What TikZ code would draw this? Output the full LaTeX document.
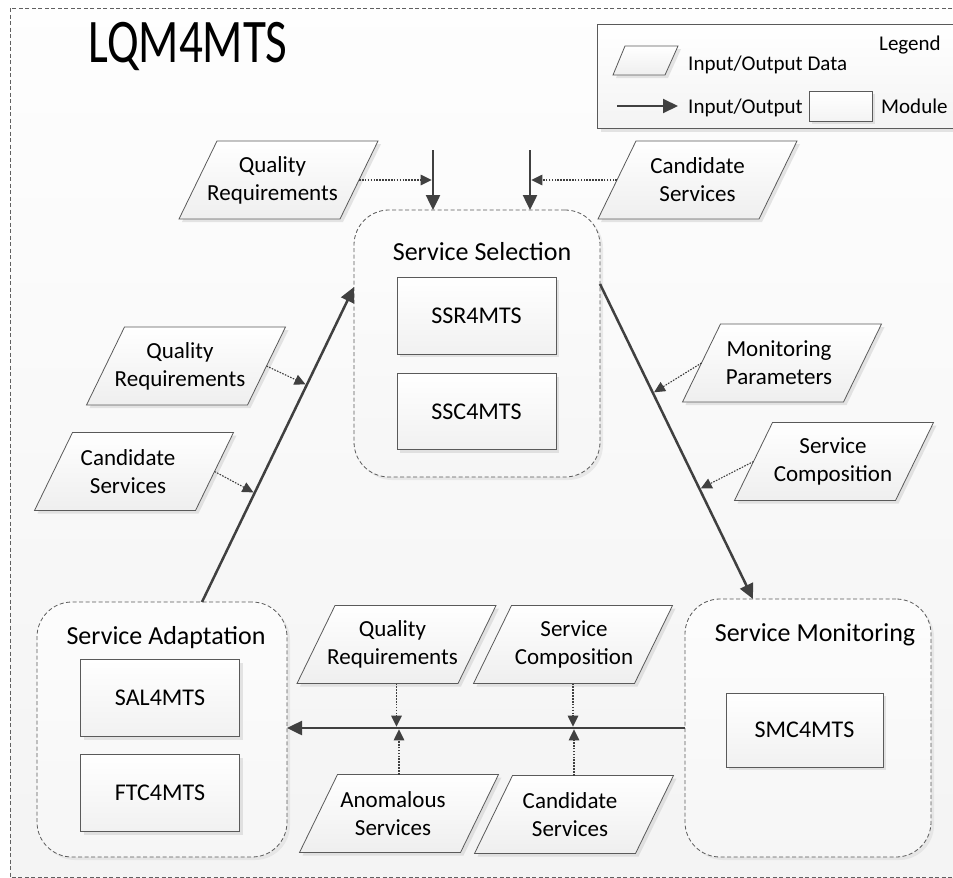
\documentclass[tikz,border=0pt]{standalone}
\usepackage{fontspec}
\setmainfont{Carlito}
\usepackage{graphicx}
\usetikzlibrary{arrows.meta,shadows,calc}
\definecolor{arr}{HTML}{404040}
\definecolor{edgec}{HTML}{5A5A5A}
\tikzset{
  mainarrow/.style={draw=arr, line width=2.5pt, -{Triangle[length=15pt,width=14pt]}},
  dotarrow/.style={draw=arr, line width=1.1pt, dash pattern=on 1.6pt off 1.3pt, -{Triangle[length=11pt,width=10.5pt]}},
  sh/.style={drop shadow={shadow xshift=3pt, shadow yshift=-3pt, fill=gray!45, opacity=0.45}},
  module/.style={draw=edgec, line width=0.8pt, top color=white, bottom color=gray!11, sh,
    minimum width=159pt, minimum height=77pt, inner sep=0pt, outer sep=0pt, font=\fontsize{24}{28}\selectfont},
  container/.style={draw=edgec, line width=0.8pt, dash pattern=on 4pt off 2.5pt, rounded corners=35pt,
    top color=gray!2, bottom color=gray!7, inner sep=0pt, outer sep=0pt,
    drop shadow={shadow xshift=3pt, shadow yshift=-3pt, fill=gray!40, opacity=0.35}},
  ctitle/.style={inner sep=0pt, font=\fontsize{26}{30}\selectfont},
  paratext/.style={align=center, inner sep=0pt, font=\fontsize{23}{28}\selectfont},
  parashape/.style={draw=edgec, line width=0.8pt, top color=white, bottom color=gray!13, sh},
  legtext/.style={inner sep=0pt, anchor=base west, font=\fontsize{21}{25}\selectfont},
}
\newcommand\paral[5]{%
  \begin{scope}[shift={(#2,#3)}]
    \path[parashape] (-61.5,39) -- (99.5,39) -- (61.5,-39) -- (-99.5,-39) -- cycle;
    \coordinate (#1-r) at (80.5,0);
    \coordinate (#1-l) at (-80.5,0);
    \coordinate (#1-t) at (0,39);
    \coordinate (#1-b) at (0,-39);
    \node[paratext] (#1) at (#4,0) {#5};
  \end{scope}}
\begin{document}
\begin{tikzpicture}[x=1pt,y=1pt]
\useasboundingbox (0,0) rectangle (953,-878);
\clip (0,0) rectangle (953,-878);
% background and outer border
\path[top color=gray!1, bottom color=gray!9] (10,-8) rectangle (990,-877);
\draw[gray!75!black, line width=0.8pt, dash pattern=on 4pt off 2.5pt] (10,-8) rectangle (990,-877);
% title
\node[anchor=base west, inner sep=0pt] (title) at (88,-62) {\scalebox{0.76}[1]{\fontsize{62}{62}\selectfont LQM4MTS}};
% legend
\node[draw=edgec, line width=1pt, top color=white, bottom color=gray!9, sh, anchor=north west,
  minimum width=380pt, minimum height=104pt, inner sep=0pt] (legend) at (597,-24) {};
\path[parashape] (625,-46) -- (678,-46) -- (665,-75) -- (613,-75) -- cycle;
\node[legtext] (legT) at (879,-50) {Legend};
\node[legtext] (legD) at (688,-70) {Input/Output Data};
\coordinate (legA1) at (617,-106);
\coordinate (legA2) at (678,-106);
\draw[draw=arr, line width=2pt, -{Triangle[length=15pt,width=14pt]}] (legA1) -- (legA2);
\node[legtext] (legIO) at (688,-113) {Input/Output};
\node[draw=edgec, line width=0.8pt, top color=white, bottom color=gray!9, sh, anchor=north west,
  minimum width=63pt, minimum height=30pt, inner sep=0pt] (legM) at (809,-91) {};
\node[legtext] (legMT) at (881,-113) {Module};
% containers
\node[container, minimum width=246pt, minimum height=267pt] (sel) at (477,-343.5) {};
\node[container, minimum width=250pt, minimum height=255pt] (adapt) at (162,-729.5) {};
\node[container, minimum width=246pt, minimum height=258pt] (mon) at (808,-728) {};
\node[ctitle] (selT) at (482,-252) {Service Selection};
\node[ctitle] (adaT) at (166,-638) {Service Adaptation};
\node[ctitle] (monT) at (815,-635) {Service Monitoring};
% modules
\node[module] (ssr) at (476.5,-315.5) {SSR4MTS};
\node[module, minimum height=76pt] (ssc) at (476.5,-411.5) {SSC4MTS};
\node[module] (sal) at (160,-698) {SAL4MTS};
\node[module] (ftc) at (160,-793) {FTC4MTS};
\node[module, minimum width=157pt, minimum height=74pt] (smc) at (804.5,-730) {SMC4MTS};
% data parallelograms
\paral{qrTop}{278.5}{-180}{-6}{Quality\\Requirements}
\paral{csTop}{697.5}{-180}{0}{Candidate\\Services}
\paral{qrLeft}{186}{-366}{-6}{Quality\\Requirements}
\paral{csLeft}{134}{-471.5}{-6}{Candidate\\Services}
\paral{mp}{782}{-363}{-3}{Monitoring\\Parameters}
\paral{sc}{834}{-461.5}{-1}{Service\\Composition}
\paral{qrBot}{396.5}{-644.5}{-4}{Quality\\Requirements}
\paral{scBot}{573}{-644.5}{1}{Service\\Composition}
\paral{anom}{399}{-813.5}{-6}{Anomalous\\Services}
\paral{csBot}{574}{-814.5}{-4}{Candidate\\Services}
% main flow arrows
\coordinate (in1) at (433,-150);
\coordinate (in2) at (530,-150);
\draw[mainarrow] (in1) -- (in1 |- sel.north);
\draw[mainarrow] (in2) -- (in2 |- sel.north);
\coordinate (aS) at (202,-602);
\coordinate (aE) at (354,-287);
\draw[mainarrow] (aS) -- (aE);
\coordinate (sS) at (600,-284);
\coordinate (sE) at (753,-599);
\draw[mainarrow] (sS) -- (sE);
\draw[mainarrow] (mon.west) -- (adapt.east |- mon.west);
% dotted input arrows
\draw[dotarrow, shorten >=1.3pt] (qrTop-r) -- (in1 |- qrTop-r);
\draw[dotarrow, shorten >=1.3pt] (csTop-l) -- (in2 |- csTop-l);
\draw[dotarrow, shorten >=1.3pt] (qrLeft-r) -- ($(aS)!0.689!(aE)$);
\draw[dotarrow, shorten >=1.3pt] (csLeft-r) -- ($(aS)!0.346!(aE)$);
\draw[dotarrow, shorten >=1.3pt] (mp-l) -- ($(sS)!0.346!(sE)$);
\draw[dotarrow, shorten >=1.3pt] (sc-l) -- ($(sS)!0.651!(sE)$);
\draw[dotarrow, shorten >=1.3pt] (qrBot-b) -- (qrBot-b |- mon.west);
\draw[dotarrow, shorten >=1.3pt] (scBot-b) -- (scBot-b |- mon.west);
\draw[dotarrow, shorten >=1.3pt] (anom-t) -- (anom-t |- mon.west);
\draw[dotarrow, shorten >=1.3pt] (csBot-t) -- (csBot-t |- mon.west);
\end{tikzpicture}
\end{document}
